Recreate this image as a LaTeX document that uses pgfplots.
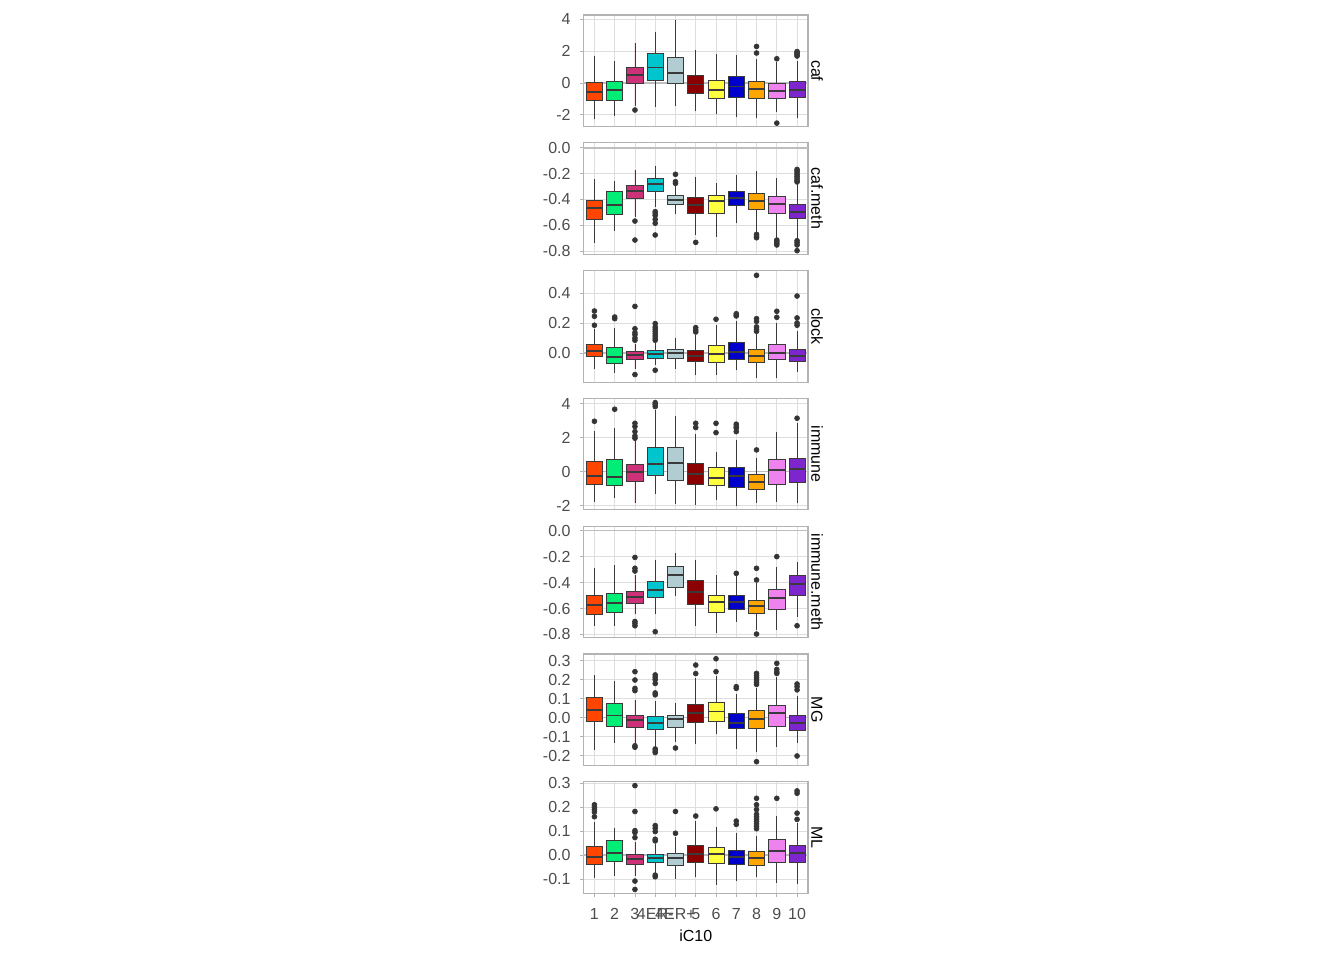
\documentclass[border=0pt]{standalone}
\usepackage{fontspec}
\setmainfont{Liberation Sans}
\usepackage{pgfplots}
\pgfplotsset{compat=1.18}
\usepgfplotslibrary{statistics}
\definecolor{c1}{HTML}{FF4500}
\definecolor{c2}{HTML}{00EE76}
\definecolor{c3}{HTML}{CD3278}
\definecolor{c4}{HTML}{00C5CD}
\definecolor{c5}{HTML}{B2CDD1}
\definecolor{c6}{HTML}{8B0000}
\definecolor{c7}{HTML}{FFFF40}
\definecolor{c8}{HTML}{0000CD}
\definecolor{c9}{HTML}{FFA500}
\definecolor{c10}{HTML}{EE82EE}
\definecolor{c11}{HTML}{7D26CD}
\definecolor{gridc}{HTML}{DEDEDE}
\definecolor{borderc}{HTML}{B3B3B3}
\definecolor{tickc}{HTML}{4D4D4D}
\definecolor{zeroc}{HTML}{BEBEBE}
\definecolor{boxc}{HTML}{3A3A3A}
\definecolor{ptc}{HTML}{333333}
\pgfplotsset{
  panel/.style={
    at={(437.6pt,#1)}, anchor=north west,
    width=168.4pt, height=83.6pt, scale only axis,
    xmin=0.46, xmax=11.54,
    xtick={1,...,11}, xticklabels={},
    grid=major, major grid style={draw=gridc, line width=0.55pt},
    axis line style={draw=borderc, line width=0.8pt},
    tick align=outside, tick pos=left,
    major tick length=2.7pt,
    ytick style={draw=borderc, line width=0.55pt},
    xtick style={draw=none},
    ticklabel style={font=\fontsize{12}{14}\selectfont, text=tickc},
    yticklabel style={xshift=-3.5pt},
    boxplot/draw direction=y,
    clip=false,
  },
  bxs/.style={mark=*, mark size=1.8pt, mark options={fill=ptc, draw=none},
    draw=boxc, line width=0.6pt,
    boxplot/box extend=0.8, boxplot/whisker extend=0,
    boxplot/every median/.style={line width=1.4pt, draw=boxc},
    boxplot/every whisker/.style={draw=boxc, line width=0.6pt}},
}
\newcommand{\bx}[8]{%
  \addplot[bxs, fill=#2, boxplot prepared={draw position=#1, lower whisker=#3, lower quartile=#4, median=#5, upper quartile=#6, upper whisker=#7}] coordinates {#8};}
\newcommand{\zeroline}{\addplot[zeroc, line width=1.2pt, mark=none] coordinates {(0.46,0) (11.54,0)};}
\newcommand{\strip}[1]{\node[xshift=2.6pt, rotate=-90, anchor=base, inner sep=0pt, font=\fontsize{12}{14}\selectfont, text=black] at (rel axis cs:1,0.5) {#1};}
\begin{document}
\begin{tikzpicture}
\path[use as bounding box] (0,0) rectangle (1008pt,-720pt);
% ---- caf
\begin{axis}[panel={-11.25pt}, ymin=-2.73, ymax=4.25, ytick={-2,0,2,4}, yticklabels={-2,0,2,4}]
\zeroline
\bx{1}{c1}{-2.26}{-1.11}{-0.57}{0.06}{1.66}{}
\bx{2}{c2}{-2.05}{-1.07}{-0.44}{0.10}{1.36}{}
\bx{3}{c3}{-1.43}{-0.02}{0.50}{0.99}{2.52}{(3,-1.70)}
\bx{4}{c4}{-1.53}{0.15}{0.96}{1.87}{3.19}{}
\bx{5}{c5}{-1.47}{-0.04}{0.61}{1.61}{3.92}{}
\bx{6}{c6}{-1.74}{-0.65}{-0.10}{0.44}{2.08}{}
\bx{7}{c7}{-1.95}{-0.96}{-0.44}{0.15}{1.82}{}
\bx{8}{c8}{-2.16}{-0.90}{-0.23}{0.40}{1.72}{}
\bx{9}{c9}{-2.20}{-0.99}{-0.38}{0.10}{1.50}{(9,2.28) (9,1.87)}
\bx{10}{c10}{-1.84}{-0.99}{-0.52}{-0.06}{1.30}{(10,1.51) (10,-2.52)}
\bx{11}{c11}{-2.20}{-0.92}{-0.42}{0.08}{1.40}{(11,1.96) (11,1.90) (11,1.84) (11,1.75) (11,1.68)}
\strip{caf}
\end{axis}
% ---- caf.meth
\begin{axis}[panel={-107.1pt}, ymin=-0.825, ymax=0.038, ytick={-0.8,-0.6,-0.4,-0.2,0}, yticklabels={-0.8,-0.6,-0.4,-0.2,0.0}]
\zeroline
\bx{1}{c1}{-0.735}{-0.555}{-0.47}{-0.405}{-0.245}{}
\bx{2}{c2}{-0.643}{-0.516}{-0.446}{-0.34}{-0.255}{}
\bx{3}{c3}{-0.534}{-0.392}{-0.335}{-0.294}{-0.17}{(3,-0.568) (3,-0.715)}
\bx{4}{c4}{-0.457}{-0.335}{-0.279}{-0.237}{-0.14}{(4,-0.495) (4,-0.51) (4,-0.525) (4,-0.555) (4,-0.585) (4,-0.676)}
\bx{5}{c5}{-0.514}{-0.436}{-0.408}{-0.372}{-0.289}{(5,-0.206) (5,-0.263) (5,-0.276)}
\bx{6}{c6}{-0.676}{-0.511}{-0.446}{-0.382}{-0.227}{(6,-0.733)}
\bx{7}{c7}{-0.689}{-0.511}{-0.41}{-0.372}{-0.276}{}
\bx{8}{c8}{-0.586}{-0.449}{-0.387}{-0.335}{-0.212}{}
\bx{9}{c9}{-0.65}{-0.477}{-0.41}{-0.351}{-0.18}{(9,-0.671) (9,-0.685) (9,-0.697)}
\bx{10}{c10}{-0.70}{-0.508}{-0.439}{-0.377}{-0.237}{(10,-0.715) (10,-0.728) (10,-0.74) (10,-0.753)}
\bx{11}{c11}{-0.70}{-0.547}{-0.498}{-0.441}{-0.284}{(11,-0.168) (11,-0.18) (11,-0.195) (11,-0.21) (11,-0.225) (11,-0.24) (11,-0.255) (11,-0.265) (11,-0.72) (11,-0.735) (11,-0.753) (11,-0.797)}
\strip{caf.meth}
\end{axis}
% ---- clock
\begin{axis}[panel={-202.95pt}, ymin=-0.192, ymax=0.5515, ytick={0,0.2,0.4}, yticklabels={0.0,0.2,0.4}]
\zeroline
\bx{1}{c1}{-0.107}{-0.024}{0.013}{0.058}{0.164}{(1,0.282) (1,0.247) (1,0.187)}
\bx{2}{c2}{-0.131}{-0.067}{-0.022}{0.038}{0.169}{(2,0.242) (2,0.231)}
\bx{3}{c3}{-0.102}{-0.04}{-0.009}{0.013}{0.064}{(3,0.313) (3,0.164) (3,0.138) (3,0.124) (3,0.102) (3,0.087) (3,-0.142)}
\bx{4}{c4}{-0.08}{-0.031}{-0.002}{0.018}{0.076}{(4,0.198) (4,0.175) (4,0.16) (4,0.145) (4,0.13) (4,0.115) (4,0.1) (4,0.087) (4,-0.113)}
\bx{5}{c5}{-0.102}{-0.036}{0.002}{0.027}{0.102}{}
\bx{6}{c6}{-0.142}{-0.056}{-0.02}{0.018}{0.12}{(6,0.171) (6,0.155) (6,0.142)}
\bx{7}{c7}{-0.142}{-0.058}{-0.002}{0.053}{0.187}{(7,0.227)}
\bx{8}{c8}{-0.113}{-0.04}{0.009}{0.071}{0.213}{(8,0.264) (8,0.255) (8,0.249)}
\bx{9}{c9}{-0.164}{-0.058}{-0.02}{0.027}{0.131}{(9,0.52) (9,0.231) (9,0.213) (9,0.176) (9,0.16) (9,0.147)}
\bx{10}{c10}{-0.164}{-0.042}{0.002}{0.06}{0.204}{(10,0.28) (10,0.24)}
\bx{11}{c11}{-0.124}{-0.053}{-0.02}{0.027}{0.147}{(11,0.382) (11,0.236) (11,0.202) (11,0.187)}
\strip{clock}
\end{axis}
% ---- immune
\begin{axis}[panel={-298.8pt}, ymin=-2.26, ymax=4.32, ytick={-2,0,2,4}, yticklabels={-2,0,2,4}]
\zeroline
\bx{1}{c1}{-1.81}{-0.77}{-0.24}{0.61}{2.42}{(1,2.97)}
\bx{2}{c2}{-1.54}{-0.83}{-0.33}{0.69}{2.56}{(2,3.68)}
\bx{3}{c3}{-1.87}{-0.57}{-0.04}{0.45}{1.87}{(3,2.85) (3,2.66) (3,2.36) (3,2.1) (3,1.97)}
\bx{4}{c4}{-1.34}{-0.24}{0.47}{1.40}{3.64}{(4,4.07) (4,3.96) (4,3.84)}
\bx{5}{c5}{-1.93}{-0.53}{0.53}{1.44}{3.31}{}
\bx{6}{c6}{-1.97}{-0.73}{-0.14}{0.49}{2.20}{(6,2.85) (6,2.6)}
\bx{7}{c7}{-1.67}{-0.83}{-0.39}{0.26}{1.18}{(7,2.85) (7,2.3)}
\bx{8}{c8}{-2.03}{-0.93}{-0.24}{0.24}{1.87}{(8,2.8) (8,2.66) (8,2.56) (8,2.36)}
\bx{9}{c9}{-1.87}{-1.08}{-0.59}{-0.16}{0.79}{(9,1.28)}
\bx{10}{c10}{-1.77}{-0.73}{0.10}{0.69}{2.36}{}
\bx{11}{c11}{-1.87}{-0.63}{0.14}{0.79}{2.85}{(11,3.15)}
\strip{immune}
\end{axis}
% ---- immune.meth
\begin{axis}[panel={-394.65pt}, ymin=-0.825, ymax=0.0345, ytick={-0.8,-0.6,-0.4,-0.2,0}, yticklabels={-0.8,-0.6,-0.4,-0.2,0.0}]
\zeroline
\bx{1}{c1}{-0.735}{-0.643}{-0.571}{-0.496}{-0.29}{}
\bx{2}{c2}{-0.735}{-0.632}{-0.555}{-0.481}{-0.265}{}
\bx{3}{c3}{-0.645}{-0.558}{-0.512}{-0.468}{-0.342}{(3,-0.206) (3,-0.29) (3,-0.311) (3,-0.70) (3,-0.715) (3,-0.733)}
\bx{4}{c4}{-0.643}{-0.514}{-0.458}{-0.393}{-0.226}{(4,-0.779)}
\bx{5}{c5}{-0.504}{-0.44}{-0.342}{-0.272}{-0.175}{}
\bx{6}{c6}{-0.735}{-0.568}{-0.47}{-0.386}{-0.226}{}
\bx{7}{c7}{-0.792}{-0.63}{-0.553}{-0.496}{-0.342}{}
\bx{8}{c8}{-0.702}{-0.609}{-0.553}{-0.499}{-0.347}{(8,-0.329)}
\bx{9}{c9}{-0.766}{-0.64}{-0.578}{-0.535}{-0.406}{(9,-0.29) (9,-0.38) (9,-0.797)}
\bx{10}{c10}{-0.766}{-0.604}{-0.522}{-0.45}{-0.278}{(10,-0.2)}
\bx{11}{c11}{-0.663}{-0.501}{-0.414}{-0.344}{-0.239}{(11,-0.733)}
\strip{immune.meth}
\end{axis}
% ---- MG
\begin{axis}[panel={-490.5pt}, ymin=-0.252, ymax=0.335, ytick={-0.2,-0.1,0,0.1,0.2,0.3}, yticklabels={-0.2,-0.1,0.0,0.1,0.2,0.3}]
\zeroline
\bx{1}{c1}{-0.17}{-0.021}{0.039}{0.107}{0.225}{}
\bx{2}{c2}{-0.132}{-0.044}{0.011}{0.077}{0.193}{}
\bx{3}{c3}{-0.14}{-0.053}{-0.014}{0.012}{0.093}{(3,0.242) (3,0.198) (3,0.154) (3,0.142) (3,-0.148) (3,-0.156)}
\bx{4}{c4}{-0.153}{-0.06}{-0.028}{0.004}{0.088}{(4,0.225) (4,0.212) (4,0.2) (4,0.18) (4,0.13) (4,0.12) (4,-0.165) (4,-0.175) (4,-0.184)}
\bx{5}{c5}{-0.126}{-0.051}{-0.007}{0.012}{0.075}{(5,-0.16)}
\bx{6}{c6}{-0.139}{-0.025}{0.026}{0.072}{0.207}{(6,0.277) (6,0.232)}
\bx{7}{c7}{-0.088}{-0.021}{0.032}{0.079}{0.221}{(7,0.31) (7,0.242)}
\bx{8}{c8}{-0.167}{-0.058}{-0.028}{0.023}{0.123}{(8,0.163) (8,0.154)}
\bx{9}{c9}{-0.179}{-0.056}{-0.007}{0.037}{0.154}{(9,0.233) (9,0.221) (9,0.21) (9,0.198) (9,0.186) (9,0.175) (9,-0.232)}
\bx{10}{c10}{-0.153}{-0.044}{0.023}{0.063}{0.212}{(10,0.286) (10,0.254) (10,0.24) (10,0.233)}
\bx{11}{c11}{-0.135}{-0.068}{-0.028}{0.012}{0.116}{(11,0.177) (11,0.163) (11,0.146) (11,-0.202)}
\strip{MG}
\end{axis}
% ---- ML
\begin{axis}[panel={-586.35pt}, ymin=-0.160, ymax=0.306, ytick={-0.1,0,0.1,0.2,0.3}, yticklabels={-0.1,0.0,0.1,0.2,0.3},
  xticklabels={1,2,3,4ER-,4ER+,5,6,7,8,9,10}, xtick style={draw=borderc, line width=0.55pt},
  xticklabel style={yshift=-5pt},
  xlabel={iC10}, xlabel style={font=\fontsize{12}{14}\selectfont, text=black, yshift=-1pt}]
\zeroline
\bx{1}{c1}{-0.098}{-0.039}{-0.007}{0.035}{0.14}{(1,0.21) (1,0.2) (1,0.19) (1,0.18) (1,0.16)}
\bx{2}{c2}{-0.088}{-0.025}{0.007}{0.06}{0.115}{}
\bx{3}{c3}{-0.088}{-0.038}{-0.018}{0.003}{0.056}{(3,0.29) (3,0.182) (3,0.102) (3,0.094) (3,0.073) (3,-0.109) (3,-0.144)}
\bx{4}{c4}{-0.077}{-0.032}{-0.011}{0.003}{0.046}{(4,0.123) (4,0.112) (4,0.098) (4,0.066) (4,0.059) (4,-0.084) (4,-0.091)}
\bx{5}{c5}{-0.102}{-0.045}{-0.014}{0.007}{0.074}{(5,0.182) (5,0.091)}
\bx{6}{c6}{-0.094}{-0.029}{0.003}{0.042}{0.142}{(6,0.163)}
\bx{7}{c7}{-0.126}{-0.035}{0.003}{0.032}{0.119}{(7,0.193)}
\bx{8}{c8}{-0.109}{-0.039}{-0.01}{0.018}{0.091}{(8,0.142) (8,0.128)}
\bx{9}{c9}{-0.094}{-0.042}{-0.014}{0.014}{0.081}{(9,0.237) (9,0.21) (9,0.19) (9,0.17) (9,0.16) (9,0.15) (9,0.14) (9,0.13) (9,0.12) (9,0.11)}
\bx{10}{c10}{-0.115}{-0.031}{0.018}{0.066}{0.163}{(10,0.237)}
\bx{11}{c11}{-0.123}{-0.031}{0.01}{0.042}{0.133}{(11,0.268) (11,0.258) (11,0.175) (11,0.149)}
\strip{ML}
\end{axis}
\end{tikzpicture}
\end{document}
